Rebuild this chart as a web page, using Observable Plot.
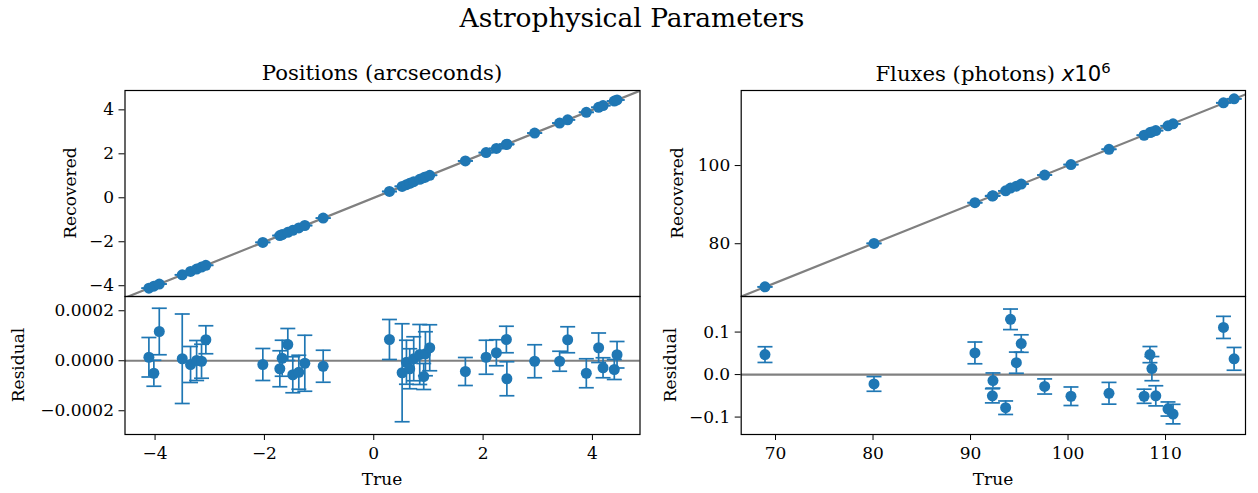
<!DOCTYPE html>
<html>
<head>
<meta charset="utf-8">
<script src="https://cdn.jsdelivr.net/npm/d3@7"></script>
<script src="https://cdn.jsdelivr.net/npm/@observablehq/plot@0.6"></script>
<style>
  html, body { margin: 0; padding: 0; background: white; overflow: hidden; }
  #wrap { position: relative; width: 1258px; height: 493px; font-family: "DejaVu Serif", serif; color: black; }
  #wrap svg { position: absolute; left: 0; top: 0; }
  .t { position: absolute; white-space: nowrap; line-height: 1; transform: translate(-50%, -50%); }
  .rot { transform: translate(-50%, -50%) rotate(-90deg); }
</style>
</head>
<body>
<div id="wrap"></div>
<script>
// ---- Data ----
const posTrue = [-4.113,-4.022,-3.923,-3.503,-3.351,-3.24,-3.15,-3.071,-2.029,-1.718,-1.675,-1.572,-1.481,-1.371,-1.261,-0.925,0.287,0.519,0.598,0.658,0.731,0.841,0.914,0.945,1.024,1.676,2.055,2.243,2.426,2.435,2.943,3.40,3.547,3.888,4.113,4.194,4.40,4.45];
const posResidual = [1.4e-5,-5.0e-5,1.17e-4,8e-6,-1.5e-5,1e-6,-2e-6,8.4e-5,-1.5e-5,-3.2e-5,1.0e-5,6.5e-5,-5.6e-5,-4.6e-5,-1.0e-5,-2.2e-5,8.5e-5,-4.8e-5,-6e-6,-3.2e-5,8e-6,2.5e-5,-6.3e-5,2.8e-5,5.2e-5,-4.3e-5,1.4e-5,3.2e-5,8.5e-5,-7.2e-5,-2e-6,-2e-6,8.4e-5,-5.0e-5,5.2e-5,-2.8e-5,-3.5e-5,2.4e-5];
const posError = [7.9e-5,5.2e-5,9.3e-5,1.79e-4,7.2e-5,8e-5,6.8e-5,5.6e-5,6.4e-5,7.2e-5,7.2e-5,6.4e-5,7.2e-5,6.8e-5,1.12e-4,6.4e-5,8e-5,1.96e-4,8.8e-5,8e-5,8.8e-5,1.2e-4,5.2e-5,8.8e-5,9.2e-5,5.6e-5,6.8e-5,5.2e-5,5.3e-5,6.8e-5,6.6e-5,4e-5,5.2e-5,5.8e-5,5.9e-5,4e-5,4e-5,5.3e-5];

const fluxTrue = [68.92,80.10,90.45,92.24,92.3,93.6,94.1,94.7,95.2,97.6,100.3,104.2,107.8,108.4,108.6,109.0,110.25,110.77,115.94,117.03];
const fluxResidual = [0.047,-0.022,0.051,-0.050,-0.014,-0.078,0.130,0.028,0.073,-0.028,-0.051,-0.044,-0.051,0.047,0.014,-0.050,-0.081,-0.093,0.111,0.037];
const fluxError = [0.0185,0.0173,0.0256,0.0166,0.0178,0.0159,0.0242,0.0249,0.0206,0.0178,0.0218,0.0256,0.0166,0.019,0.0284,0.0237,0.0166,0.023,0.026,0.0268];

const posXTicks = [-4,-2,0,2,4];
const posYTicks = [-4,-2,0,2,4];
const posResTicks = [-0.0002,0,0.0002];
const fluxXTicks = [70,80,90,100,110];
const fluxYTicks = [80,100];
const fluxResTicks = [-0.1,0,0.1];

// ---- Build tables ----
const posData = posTrue.map((t,i) => ({t, res: posResidual[i], err: posError[i], rec: t + posResidual[i]}));
const fluxData = fluxTrue.map((t,i) => ({t, res: fluxResidual[i], err: fluxError[i], rec: t + fluxResidual[i]}));

const W = 1258, H = 493;
const blue = "#1f77b4", gray = "#808080";
const capSymbol = { draw(ctx, size) { const r = Math.sqrt(size / Math.PI); ctx.moveTo(-r, 0); ctx.lineTo(r, 0); } };
const style = { fontFamily: "DejaVu Serif", fontSize: "17px", color: "black", background: "transparent", overflow: "visible" };

function errMarks(data, yField) {
  return [
    Plot.ruleX(data, {x: "t", y1: d => d[yField] - d.err, y2: d => d[yField] + d.err, stroke: blue, strokeWidth: 1.7}),
    Plot.dot(data, {x: "t", y: d => d[yField] - d.err, symbol: capSymbol, r: 7.5, stroke: blue, strokeWidth: 1.7, fill: "none"}),
    Plot.dot(data, {x: "t", y: d => d[yField] + d.err, symbol: capSymbol, r: 7.5, stroke: blue, strokeWidth: 1.7, fill: "none"}),
    Plot.dot(data, {x: "t", y: yField, r: 5.5, fill: blue, stroke: "none"})
  ];
}

function panel({left, right, top, bottom, xDomain, yDomain, yTicks, yFormat, xTicks, xFormat, marks}) {
  return Plot.plot({
    width: W, height: H,
    marginLeft: left, marginRight: W - right, marginTop: top, marginBottom: H - bottom,
    style,
    x: xTicks ? {domain: xDomain, ticks: xTicks, tickFormat: xFormat, tickSize: 6, tickPadding: 6, label: null} : {domain: xDomain, axis: null},
    y: {domain: yDomain, ticks: yTicks, tickFormat: yFormat, tickSize: 6, tickPadding: 5, label: null},
    marks: [...marks, Plot.frame({stroke: "black", strokeWidth: 1.2})]
  });
}

const LX = [124.5, 639.5], RX = [740.7, 1245];
const posXDomain = [-4.55, 4.87];
const fluxXDomain = [66.48, 118.2];

const wrap = document.getElementById("wrap");

wrap.append(panel({
  left: LX[0], right: LX[1], top: 90, bottom: 296,
  xDomain: posXDomain, yDomain: [-4.49, 4.88], yTicks: posYTicks, yFormat: d3.format("d"),
  marks: [Plot.line(posXDomain, {x: d => d, y: d => d, stroke: gray, strokeWidth: 2.2, clip: true}), ...errMarks(posData, "rec")]
}));
wrap.append(panel({
  left: LX[0], right: LX[1], top: 296, bottom: 434,
  xDomain: posXDomain, yDomain: [-0.000295, 0.000257], yTicks: posResTicks, yFormat: d3.format(".4f"),
  xTicks: posXTicks, xFormat: d3.format("d"),
  marks: [Plot.ruleY([0], {stroke: gray, strokeWidth: 2.2}), ...errMarks(posData, "res")]
}));
wrap.append(panel({
  left: RX[0], right: RX[1], top: 90, bottom: 296,
  xDomain: fluxXDomain, yDomain: [66.5, 119.2], yTicks: fluxYTicks, yFormat: d3.format("d"),
  marks: [Plot.line(fluxXDomain, {x: d => d, y: d => d, stroke: gray, strokeWidth: 2.2, clip: true}), ...errMarks(fluxData, "rec")]
}));
wrap.append(panel({
  left: RX[0], right: RX[1], top: 296, bottom: 434,
  xDomain: fluxXDomain, yDomain: [-0.141, 0.1837], yTicks: fluxResTicks, yFormat: d3.format(".1f"),
  xTicks: fluxXTicks, xFormat: d3.format("d"),
  marks: [Plot.ruleY([0], {stroke: gray, strokeWidth: 2.2}), ...errMarks(fluxData, "res")]
}));

// ---- Text ----
function label(html, x, y, size, rot) {
  const d = document.createElement("div");
  d.className = "t" + (rot ? " rot" : "");
  d.style.left = x + "px"; d.style.top = y + "px"; d.style.fontSize = size + "px";
  d.innerHTML = html;
  wrap.append(d);
}
label("Astrophysical Parameters", 632, 18, 26.5);
label("Positions (arcseconds)", 382, 73, 21.2);
label('Fluxes (photons) <span style="font-family:\'DejaVu Sans\'"><i>x</i>10<sup style="font-size:0.7em;vertical-align:0.55em">6</sup></span>', 993, 73, 21.2);
label("Recovered", 70, 193, 17, true);
label("Residual", 18, 365, 17, true);
label("Recovered", 677, 193, 17, true);
label("Residual", 670, 365, 17, true);
label("True", 382, 479, 17);
label("True", 993, 479, 17);
</script>
</body>
</html>
